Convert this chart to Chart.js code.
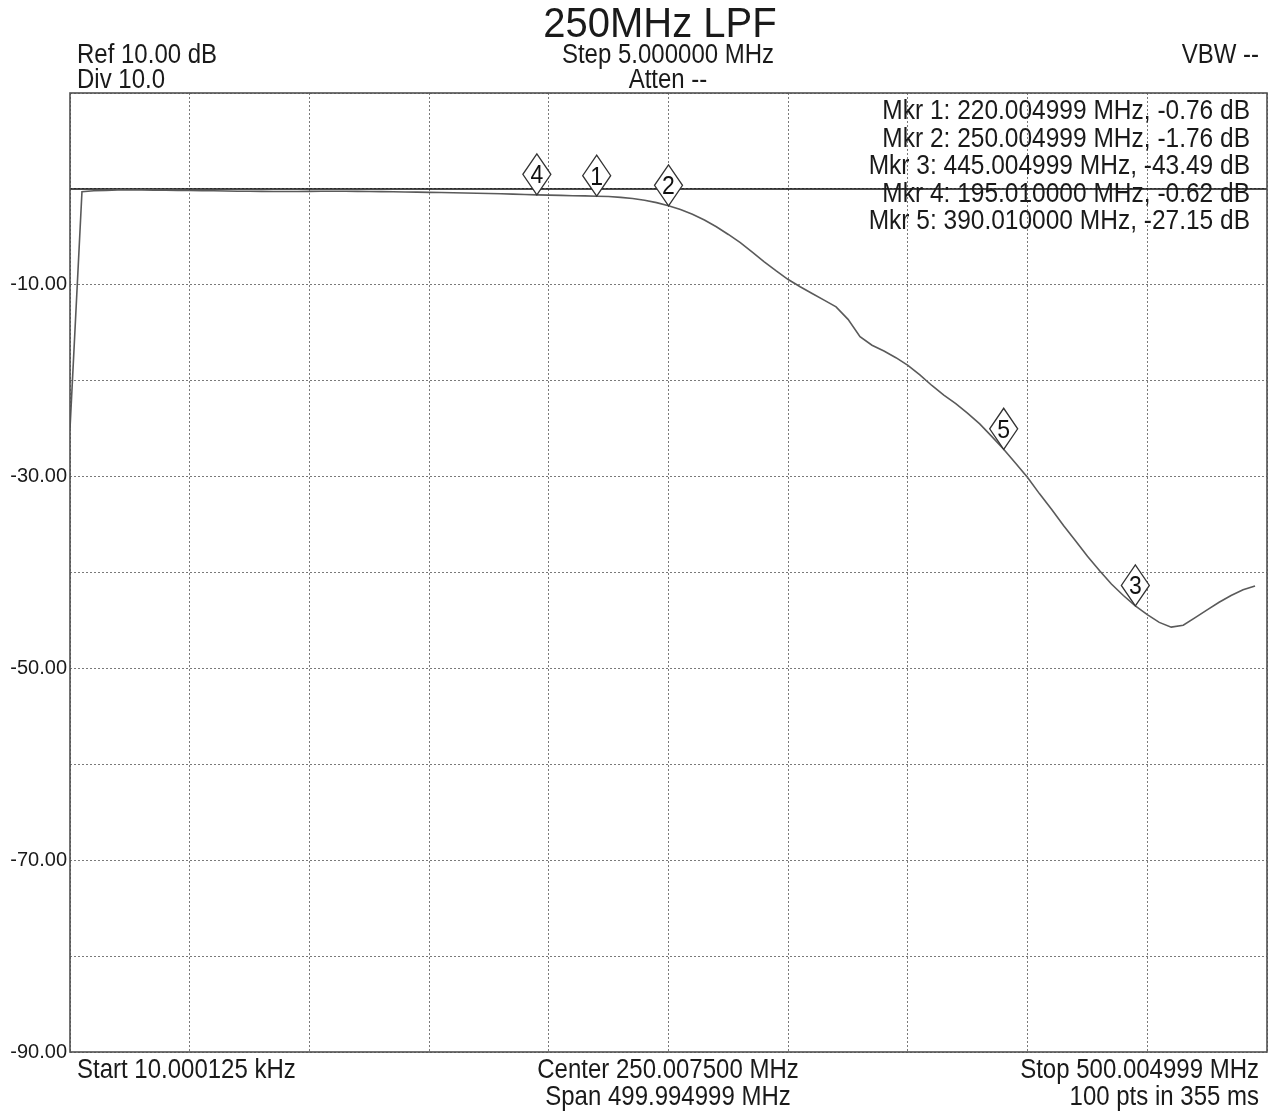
<!DOCTYPE html>
<html>
<head>
<meta charset="utf-8">
<script src="https://cdn.jsdelivr.net/npm/chart.js@4/dist/chart.umd.min.js"></script>
<style>
html,body{margin:0;padding:0;background:#fff;}
#wrap{width:1270px;height:1113px;position:relative;}
</style>
</head>
<body>
<div id="wrap"><canvas id="c" width="1270" height="1113"></canvas></div>
<script>
// Frequencies (MHz), 5 MHz step, 100 points
const freqs = [0,5,10,15,20,25,30,35,40,45,50,55,60,65,70,75,80,85,90,95,100,105,110,115,120,125,130,135,140,145,150,155,160,165,170,175,180,185,190,195,200,205,210,215,220,225,230,235,240,245,250,255,260,265,270,275,280,285,290,295,300,305,310,315,320,325,330,335,340,345,350,355,360,365,370,375,380,385,390,395,400,405,410,415,420,425,430,435,440,445,450,455,460,465,470,475,480,485,490,495];
// Measured response (dB)
const response = [-25.0,-0.30,-0.20,-0.15,-0.12,-0.12,-0.12,-0.13,-0.14,-0.15,-0.16,-0.18,-0.20,-0.22,-0.24,-0.25,-0.26,-0.27,-0.27,-0.27,-0.26,-0.25,-0.25,-0.25,-0.26,-0.27,-0.28,-0.30,-0.32,-0.34,-0.36,-0.38,-0.40,-0.42,-0.45,-0.48,-0.51,-0.54,-0.58,-0.62,-0.65,-0.68,-0.71,-0.73,-0.76,-0.80,-0.88,-1.00,-1.18,-1.43,-1.76,-2.15,-2.65,-3.25,-3.95,-4.75,-5.60,-6.60,-7.60,-8.55,-9.45,-10.20,-10.90,-11.60,-12.30,-13.60,-15.40,-16.30,-16.90,-17.60,-18.40,-19.40,-20.50,-21.50,-22.40,-23.40,-24.50,-25.80,-27.15,-28.60,-30.10,-31.80,-33.40,-35.10,-36.70,-38.30,-39.80,-41.20,-42.40,-43.49,-44.40,-45.20,-45.70,-45.50,-44.70,-43.90,-43.10,-42.40,-41.80,-41.40];
// Reference level line (dB)
const refFreqs = [0, 500];
const refLevel = [0, 0];
// Markers
const markerIds = ['1','2','3','4','5'];
const markerFreqs = [220.004999, 250.004999, 445.004999, 195.01, 390.01];
const markerVals = [-0.76, -1.76, -43.49, -0.62, -27.15];
const markerLines = [
  'Mkr 1: 220.004999 MHz, -0.76 dB',
  'Mkr 2: 250.004999 MHz, -1.76 dB',
  'Mkr 3: 445.004999 MHz, -43.49 dB',
  'Mkr 4: 195.010000 MHz, -0.62 dB',
  'Mkr 5: 390.010000 MHz, -27.15 dB'
];
// Axis / header texts
const yLabeled = [-10, -30, -50, -70, -90];
const titleText = '250MHz LPF';
const headerLeft = ['Ref 10.00 dB', 'Div 10.0'];
const headerCenter = ['Step 5.000000 MHz', 'Atten --'];
const headerRight = ['VBW --'];
const footerLeft = ['Start 10.000125 kHz'];
const footerCenter = ['Center 250.007500 MHz', 'Span 499.994999 MHz'];
const footerRight = ['Stop 500.004999 MHz', '100 pts in 355 ms'];

const FONT = '"Liberation Sans", Arial, Helvetica, sans-serif';

function txt(ctx, t, x, y, align, size, sy) {
  ctx.save();
  ctx.translate(x, y);
  ctx.scale(1, sy || 1.12);
  ctx.font = size + 'px ' + FONT;
  ctx.textAlign = align;
  ctx.textBaseline = 'alphabetic';
  ctx.fillText(t, 0, 0);
  ctx.restore();
}

const overlay = {
  id: 'overlay',
  afterDatasetsDraw(chart) {
    const ctx = chart.ctx;
    const a = chart.chartArea;
    const xs = chart.scales.x, ys = chart.scales.y;
    ctx.save();
    // frame
    ctx.strokeStyle = '#505050';
    ctx.lineWidth = 1.6;
    ctx.strokeRect(a.left, a.top, a.right - a.left, a.bottom - a.top);
    // marker table
    ctx.fillStyle = '#1a1a1a';
    markerLines.forEach((t, i) => txt(ctx, t, 1250, 119 + i * 27.5, 'right', 24.5));
    // diamonds
    for (let i = 0; i < markerIds.length; i++) {
      const px = xs.getPixelForValue(markerFreqs[i]);
      const py = ys.getPixelForValue(markerVals[i]);
      const hw = 14, hh = 20.5;
      const cy = py - hh;
      ctx.beginPath();
      ctx.moveTo(px, py);
      ctx.lineTo(px + hw, cy);
      ctx.lineTo(px, cy - hh);
      ctx.lineTo(px - hw, cy);
      ctx.closePath();
      ctx.fillStyle = '#ffffff';
      ctx.fill();
      ctx.strokeStyle = '#333';
      ctx.lineWidth = 1.3;
      ctx.stroke();
      ctx.fillStyle = '#111';
      txt(ctx, markerIds[i], px, cy + 9, 'center', 23, 1.1);
    }
    // header
    ctx.fillStyle = '#1a1a1a';
    txt(ctx, titleText, 660, 37, 'center', 40, 1.08);
    headerLeft.forEach((t, i) => txt(ctx, t, 77, 63 + i * 25, 'left', 24));
    headerCenter.forEach((t, i) => txt(ctx, t, 668, 63 + i * 25, 'center', 24));
    headerRight.forEach((t, i) => txt(ctx, t, 1259, 63 + i * 25, 'right', 24));
    // footer
    footerLeft.forEach((t, i) => txt(ctx, t, 77, 1078 + i * 27, 'left', 24));
    footerCenter.forEach((t, i) => txt(ctx, t, 668, 1078 + i * 27, 'center', 24));
    footerRight.forEach((t, i) => txt(ctx, t, 1259, 1078 + i * 27, 'right', 24));
    ctx.restore();
  }
};

new Chart(document.getElementById('c'), {
  type: 'line',
  data: {
    datasets: [
      {
        label: 'Response',
        data: freqs.map((f, i) => ({x: f, y: response[i]})),
        borderColor: '#5a5a5a',
        borderWidth: 1.6,
        pointRadius: 0,
        tension: 0,
        fill: false
      },
      {
        label: 'Ref',
        data: refFreqs.map((f, i) => ({x: f, y: refLevel[i]})),
        borderColor: '#111111',
        borderWidth: 1.5,
        pointRadius: 0,
        tension: 0,
        fill: false
      }
    ]
  },
  options: {
    responsive: false,
    animation: false,
    layout: { padding: { left: 0, right: 3, top: 93, bottom: 61 } },
    plugins: { legend: { display: false }, tooltip: { enabled: false }, title: { display: false } },
    scales: {
      x: {
        type: 'linear', min: 0, max: 500,
        ticks: { display: false, stepSize: 50 },
        grid: { color: '#7a7a7a', lineWidth: 1, drawTicks: false },
        border: { display: false, dash: [2, 2] }
      },
      y: {
        type: 'linear', min: -90, max: 10,
        afterFit(scale) { scale.width = 70; },
        ticks: {
          stepSize: 10,
          padding: 3,
          color: '#1a1a1a',
          font: { family: FONT, size: 20 },
          callback: (v) => yLabeled.includes(v) ? v.toFixed(2) : ''
        },
        grid: { color: '#7a7a7a', lineWidth: 1, drawTicks: false },
        border: { display: false, dash: [2, 2] }
      }
    }
  },
  plugins: [overlay]
});
</script>
</body>
</html>
